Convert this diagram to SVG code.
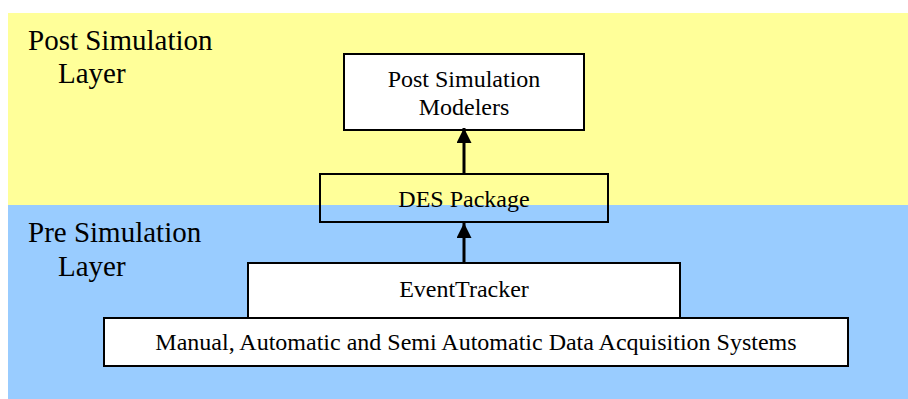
<svg xmlns="http://www.w3.org/2000/svg" width="908" height="399" viewBox="0 0 908 399">
  <defs>
    <marker id="arrow" viewBox="0 0 10 10" refX="10" refY="5" markerWidth="15" markerHeight="15" markerUnits="userSpaceOnUse" orient="auto">
      <path d="M0,0 L10,5 L0,10 z" fill="#000"/>
    </marker>
    <style>
      .box { fill: #fff; stroke: #000; stroke-width: 2; }
      .lbl { font-family: "Liberation Serif", "Times New Roman", serif; fill: #000; }
      .layer { font-size: 29px; }
      .node { font-size: 24px; text-anchor: middle; }
      .conn { stroke: #000; stroke-width: 3; fill: none; }
    </style>
  </defs>

  <!-- layer bands -->
  <rect x="8" y="13" width="900" height="192" fill="#FFFF99"/>
  <rect x="8" y="205" width="900" height="194" fill="#99CCFF"/>

  <text class="lbl layer" x="28" y="50">Post Simulation</text>
  <text class="lbl layer" x="58" y="83">Layer</text>
  <text class="lbl layer" x="28" y="242">Pre Simulation</text>
  <text class="lbl layer" x="58" y="276">Layer</text>

  <g id="post-modelers">
    <rect class="box" x="344" y="54" width="240" height="76"/>
    <text class="lbl node" x="464" y="87">Post Simulation</text>
    <text class="lbl node" x="464" y="115">Modelers</text>
  </g>

  <g id="des-package">
    <rect class="box" x="320" y="174" width="288" height="48" style="fill:none"/>
    <text class="lbl node" x="464" y="207">DES Package</text>
  </g>

  <g id="event-tracker">
    <rect class="box" x="248" y="263" width="432" height="55"/>
    <text class="lbl node" x="464" y="297">EventTracker</text>
  </g>

  <g id="data-acquisition">
    <rect class="box" x="104" y="318" width="744" height="48"/>
    <text class="lbl node" x="476" y="350">Manual, Automatic and Semi Automatic Data Acquisition Systems</text>
  </g>

  <g id="connectors">
    <line class="conn" x1="464" y1="174" x2="464" y2="128" marker-end="url(#arrow)"/>
    <line class="conn" x1="464" y1="263" x2="464" y2="223" marker-end="url(#arrow)"/>
  </g>
</svg>
